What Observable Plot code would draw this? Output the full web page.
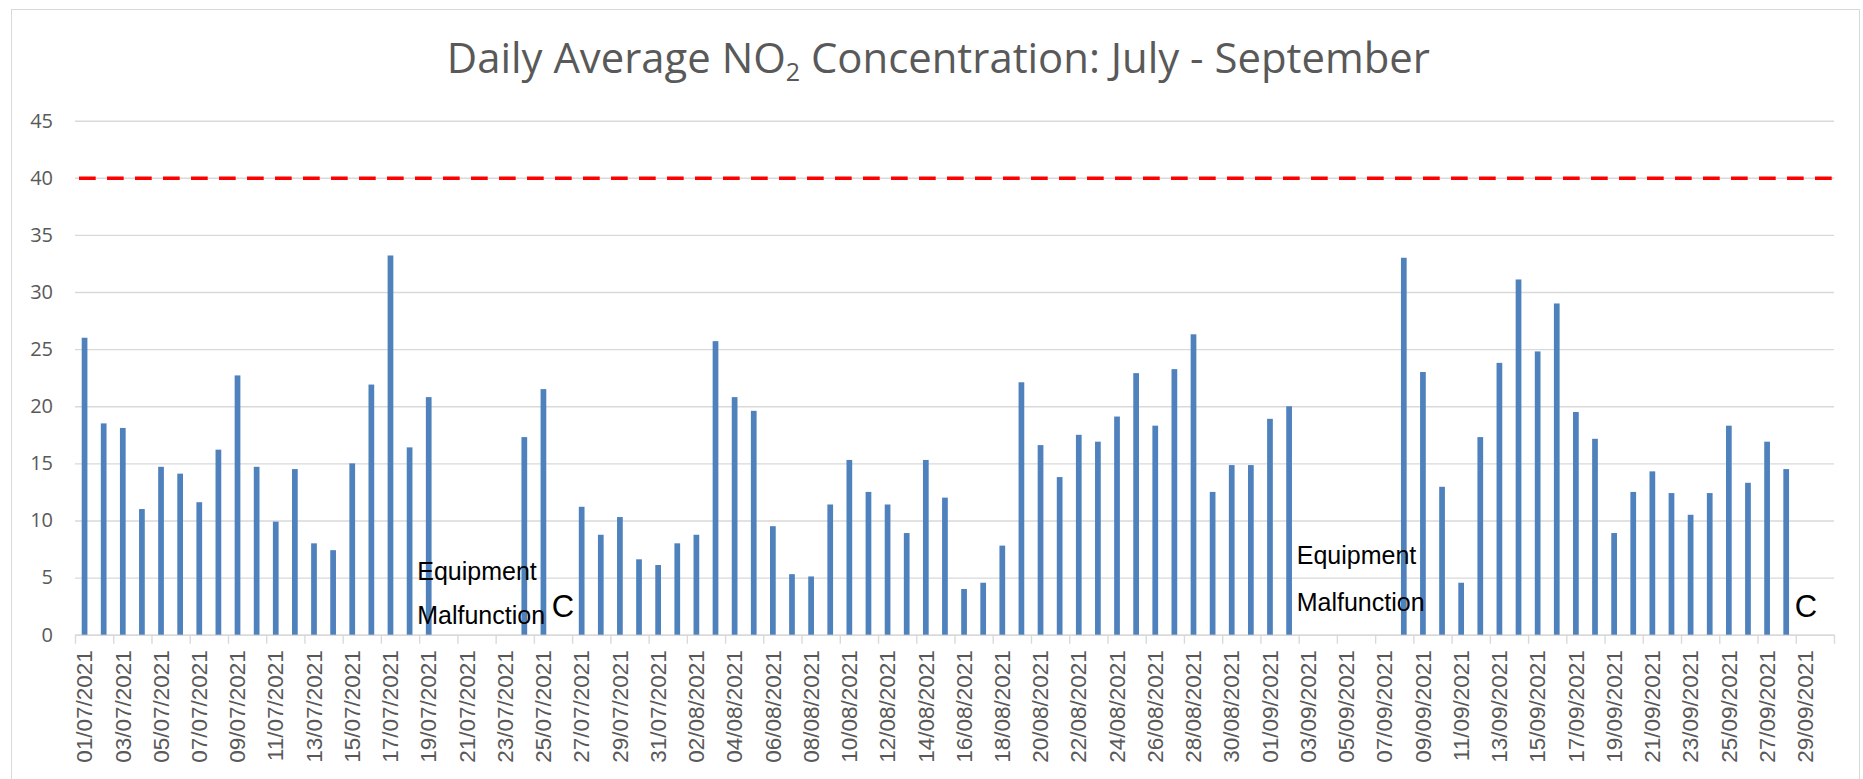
<!DOCTYPE html>
<html>
<head>
<meta charset="utf-8">
<script src="https://cdn.jsdelivr.net/npm/d3@7"></script>
<script src="https://cdn.jsdelivr.net/npm/@observablehq/plot@0.6"></script>
<style>
  html, body { margin: 0; padding: 0; background: #fff; }
  #wrap { position: relative; width: 1863px; height: 779px; overflow: hidden; background: #fff; }
  #border { position: absolute; left: 11px; top: 9px; width: 1849px; height: 820px; border: 1.5px solid #d9d9d9; box-sizing: border-box; }
  #chart { position: absolute; left: 0; top: 0; }
  #title { position: absolute; left: 0; top: 0; white-space: nowrap; font-family: "Open Sans", sans-serif; font-weight: 400; font-size: 42px; color: #595959; line-height: 1; }
  #title sub { font-size: 0.6em; vertical-align: -0.3em; line-height: 0; }
</style>
</head>
<body>
<div id="wrap">
  <div id="border"></div>
  <div id="chart"></div>
  <div id="title">Daily Average NO<sub>2</sub> Concentration: July - September</div>
</div>
<script>
// ---- data ----
const dates = [
  "01/07/2021","02/07/2021","03/07/2021","04/07/2021","05/07/2021","06/07/2021","07/07/2021","08/07/2021","09/07/2021","10/07/2021",
  "11/07/2021","12/07/2021","13/07/2021","14/07/2021","15/07/2021","16/07/2021","17/07/2021","18/07/2021","19/07/2021","20/07/2021",
  "21/07/2021","22/07/2021","23/07/2021","24/07/2021","25/07/2021","26/07/2021","27/07/2021","28/07/2021","29/07/2021","30/07/2021",
  "31/07/2021","01/08/2021","02/08/2021","03/08/2021","04/08/2021","05/08/2021","06/08/2021","07/08/2021","08/08/2021","09/08/2021",
  "10/08/2021","11/08/2021","12/08/2021","13/08/2021","14/08/2021","15/08/2021","16/08/2021","17/08/2021","18/08/2021","19/08/2021",
  "20/08/2021","21/08/2021","22/08/2021","23/08/2021","24/08/2021","25/08/2021","26/08/2021","27/08/2021","28/08/2021","29/08/2021",
  "30/08/2021","31/08/2021","01/09/2021","02/09/2021","03/09/2021","04/09/2021","05/09/2021","06/09/2021","07/09/2021","08/09/2021",
  "09/09/2021","10/09/2021","11/09/2021","12/09/2021","13/09/2021","14/09/2021","15/09/2021","16/09/2021","17/09/2021","18/09/2021",
  "19/09/2021","20/09/2021","21/09/2021","22/09/2021","23/09/2021","24/09/2021","25/09/2021","26/09/2021","27/09/2021","28/09/2021",
  "29/09/2021","30/09/2021"
];
const no2 = [
  26.0, 18.5, 18.1, 11.0, 14.7, 14.1, 11.6, 16.2, 22.7, 14.7,
  9.9, 14.5, 8.0, 7.4, 15.0, 21.9, 33.2, 16.4, 20.8, null,
  null, null, null, 17.3, 21.5, null, 11.2, 8.75, 10.3, 6.6,
  6.1, 8.0, 8.75, 25.7, 20.8, 19.6, 9.5, 5.3, 5.1, 11.4,
  15.3, 12.5, 11.4, 8.9, 15.3, 12.0, 4.0, 4.55, 7.8, 22.1,
  16.6, 13.8, 17.5, 16.9, 19.1, 22.9, 18.3, 23.25, 26.3, 12.5,
  14.85, 14.85, 18.9, 20.0, null, null, null, null, null, 33.0,
  23.0, 12.95, 4.55, 17.3, 23.8, 31.1, 24.8, 29.0, 19.5, 17.15,
  8.9, 12.5, 14.3, 12.4, 10.5, 12.4, 18.3, 13.3, 16.9, 14.5,
  null, null
];
const limitValue = [40];
const yTicks = [0, 5, 10, 15, 20, 25, 30, 35, 40, 45];
const labelEvery = 2;
const annotationDates = ["19/07/2021", "03/09/2021"];
const annotationTexts = ["Equipment\nMalfunction", "Equipment\nMalfunction"];
const flagDates = ["26/07/2021", "29/09/2021"];
const flagTexts = ["C", "C"];

// ---- build ----
const bars = dates.map((d, i) => ({date: d, i, value: no2[i]})).filter(d => d.value != null);
const labelIdx = dates.map((d, i) => i).filter(i => i % labelEvery === 0);
const boundaryIdx = dates.map((d, i) => i).filter(i => i % labelEvery === 0).concat([dates.length]);
const annots = annotationDates.map((d, k) => ({i: dates.indexOf(d), text: annotationTexts[k]}));
const flags = flagDates.map((d, k) => ({i: dates.indexOf(d), text: flagTexts[k]}));

const grey = "#d9d9d9";
const labelColor = "#595959";

const chart = Plot.plot({
  width: 1863,
  height: 779,
  marginLeft: 75,
  marginRight: 29,
  marginTop: 120.7,
  marginBottom: 144.3,
  style: {background: "transparent", fontFamily: "'Liberation Sans', Arial, sans-serif"},
  x: {type: "linear", domain: [0, dates.length], axis: null, label: null},
  y: {domain: [0, 45], axis: null, label: null},
  marks: [
    Plot.gridY(yTicks, {stroke: grey, strokeOpacity: 1, strokeWidth: 1.4}),
    Plot.ruleY([0], {stroke: grey, strokeWidth: 1.6}),
    Plot.axisY(yTicks, {label: null, tickSize: 0, tickPadding: 22.5, fontSize: 20, fill: labelColor, fontFamily: "'Open Sans', sans-serif"}),
    Plot.axisX(boundaryIdx, {label: null, tickSize: 9, stroke: grey, strokeWidth: 1.4, tickFormat: () => ""}),
    Plot.axisX(labelIdx.map(i => i + 0.5), {
      label: null, tickSize: 0, tickPadding: 15, tickRotate: -90, fontSize: 22.5, fill: labelColor,
      tickFormat: t => dates[Math.round(t - 0.5)]
    }),
    Plot.ruleY(limitValue, {stroke: "#ff0000", strokeWidth: 3.6, strokeDasharray: "16.7 11.3", insetLeft: 4, insetRight: 1}),
    Plot.rectY(bars, {x1: "i", x2: d => d.i + 1, y: "value", fill: "#4f81bd", insetLeft: 6.7, insetRight: 6.7}),
    Plot.text([annots[0]], {x: d => d.i + 0.5, y: () => 0, text: "text", textAnchor: "start", lineAnchor: "bottom",
      dx: -12, dy: -11, lineHeight: 1.76, fontSize: 25, fill: "#000"}),
    Plot.text([annots[1]], {x: d => d.i + 0.5, y: () => 0, text: "text", textAnchor: "start", lineAnchor: "bottom",
      dx: -12, dy: -24, lineHeight: 1.88, fontSize: 25, fill: "#000"}),
    Plot.text(flags, {x: d => d.i + 0.5, y: () => 0, text: "text", textAnchor: "middle", lineAnchor: "bottom",
      dy: -18, fontSize: 31, fill: "#000"})
  ]
});
document.getElementById("chart").appendChild(chart);

// title: centred on the chart box
const title = document.getElementById("title");
const targetWidth = 983;
const w = title.getBoundingClientRect().width;
const sx = targetWidth / w;
const centerX = 938;
title.style.left = (centerX - w / 2) + "px";
title.style.top = "36px";
title.style.transformOrigin = "50% 50%";
title.style.transform = `scaleX(${sx})`;
</script>
</body>
</html>
